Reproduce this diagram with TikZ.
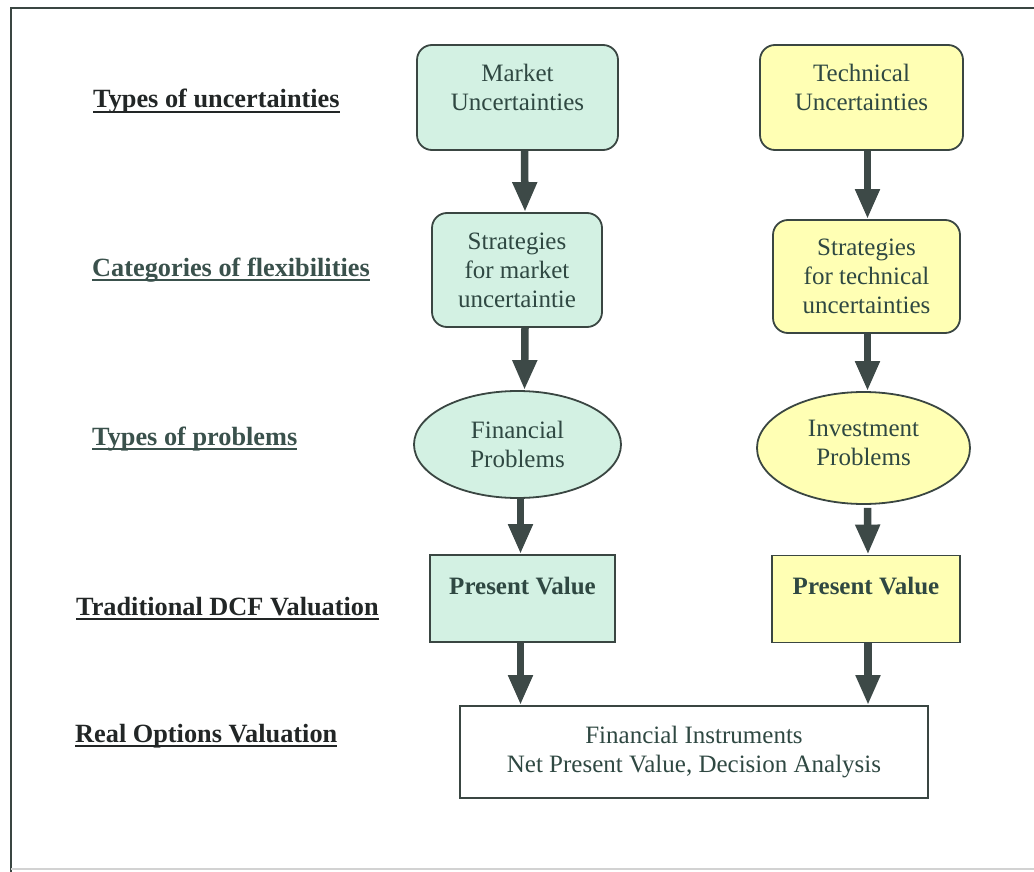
\documentclass[tikz,border=0pt]{standalone}
\usepackage{fontspec}
\setmainfont{Liberation Serif}
\usetikzlibrary{arrows.meta,shapes.geometric}
\definecolor{mint}{HTML}{D3F1E3}
\definecolor{lemon}{HTML}{FFFFB4}
\definecolor{edge}{HTML}{3A4642}
\definecolor{txt}{HTML}{2F4842}
\definecolor{lab}{HTML}{3A514C}
\definecolor{labdark}{HTML}{222626}
\definecolor{arrowc}{HTML}{3D4947}
\tikzset{
  base/.style={draw=edge, line width=1.8pt, text=txt, align=center,
    font=\fontsize{25}{29}\selectfont, inner sep=0pt},
  rbox/.style={base, rectangle, rounded corners=15pt},
  ell/.style={base, ellipse},
  pvbox/.style={base, rectangle, font=\fontsize{25}{29}\selectfont\bfseries,
    inner xsep=0pt, inner ysep=20pt, text height=19pt, text depth=28pt},
  labelnode/.style={anchor=base west, inner sep=0pt,
    font=\fontsize{26.3}{29}\selectfont\bfseries},
  uline/.style={line width=2.6pt},
  flow/.style={draw=arrowc, line width=7.5pt,
    -{Triangle[length=30pt,width=23pt]}, arrowc},
}
\begin{document}
\begin{tikzpicture}[x=1pt,y=-1pt]
\useasboundingbox (0,0) rectangle (1034,872);
\fill[white] (0,0) rectangle (1034,872);
% frame
\draw[edge, line width=2pt] (11,872) -- (11,8) -- (1034,8);
\draw[gray!35, line width=1.5pt] (11,869) -- (1034,869);

% left labels
\node[labelnode, text=labdark] (l1) at (93,108) {Types of uncertainties};
\node[labelnode, text=lab] (l2) at (92,276) {Categories of flexibilities};
\node[labelnode, text=lab] (l3) at (92,445) {Types of problems};
\node[labelnode, text=labdark] (l4) at (76,615) {Traditional DCF Valuation};
\node[labelnode, text=labdark] (l5) at (75,742) {Real Options Valuation};
\draw[uline, labdark] ([yshift=-4pt]l1.base west) -- ([yshift=-4pt]l1.base east);
\draw[uline, lab] ([yshift=-4pt]l2.base west) -- ([yshift=-4pt]l2.base east);
\draw[uline, lab] ([yshift=-4pt]l3.base west) -- ([yshift=-4pt]l3.base east);
\draw[uline, labdark] ([yshift=-4pt]l4.base west) -- ([yshift=-4pt]l4.base east);
\draw[uline, labdark] ([yshift=-4pt]l5.base west) -- ([yshift=-4pt]l5.base east);

% left column
\node[rbox, fill=mint, minimum width=201pt, minimum height=105pt, text depth=20pt] (mu) at (517.5,97.5) {Market\\Uncertainties};
\node[rbox, fill=mint, minimum width=170pt, minimum height=114pt] (ms) at (517,270) {Strategies\\for market\\uncertaintie};
\node[ell, fill=mint, minimum width=207pt, minimum height=107pt] (fp) at (517.5,444.5) {Financial\\Problems};
\node[pvbox, fill=mint, minimum width=185pt] (pv1) at (522.5,598.5) {Present Value};

% right column
\node[rbox, fill=lemon, minimum width=203pt, minimum height=105pt, text depth=20pt] (tu) at (861.5,97.5) {Technical\\Uncertainties};
\node[rbox, fill=lemon, minimum width=187pt, minimum height=113pt] (ts) at (866.5,276.5) {Strategies\\for technical\\uncertainties};
\node[ell, fill=lemon, minimum width=213pt, minimum height=112pt, text depth=11pt] (ip) at (863.5,448) {Investment\\Problems};
\node[pvbox, fill=lemon, minimum width=188pt] (pv2) at (866,599) {Present Value};

% bottom box
\node[base, rectangle, fill=white, minimum width=468pt, minimum height=92pt] (fi) at (694,752)
  {Financial Instruments\\Net Present Value, Decision Analysis};

% arrows
\draw[flow] ([xshift=7pt]mu.south) -- ([xshift=8pt]ms.north);
\draw[flow] ([xshift=6pt]tu.south) -- ([xshift=1pt]ts.north);
\draw[flow] ([xshift=8pt]ms.south) -- ([xshift=7pt]fp.north);
\draw[flow] ([xshift=1pt]ts.south) -- ([xshift=4pt]ip.north);
\draw[flow] ([xshift=3pt,yshift=1pt]fp.south) -- ([xshift=-2pt]pv1.north);
\draw[flow] ([xshift=4pt,yshift=-3pt]ip.south) -- ([xshift=2pt]pv2.north);
\draw[flow] ([xshift=-2pt]pv1.south) -- ([xshift=-2pt]pv1.south |- fi.north);
\draw[flow] ([xshift=2pt]pv2.south) -- ([xshift=2pt]pv2.south |- fi.north);
\end{tikzpicture}
\end{document}
